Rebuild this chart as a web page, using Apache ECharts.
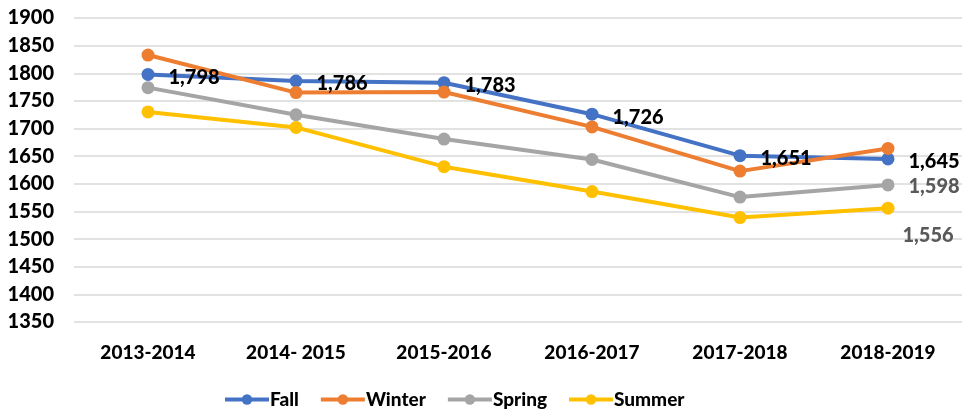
<!DOCTYPE html>
<html>
<head>
<meta charset="UTF-8">
<title>Seasons</title>
<script src="https://cdn.jsdelivr.net/npm/echarts@6/dist/echarts.min.js"></script>
<style>
  html, body { margin: 0; padding: 0; background: #fff; }
  #main { width: 965px; height: 415px; }
</style>
</head>
<body>
<div id="main"></div>
<script>
var years = ['2013-2014', '2014- 2015', '2015-2016', '2016-2017', '2017-2018', '2018-2019'];
var fall = [1798, 1786, 1783, 1726, 1651, 1645];
var winter = [1833, 1765, 1766, 1703, 1623, 1664];
var spring = [1774, 1725, 1681, 1644, 1576, 1598];
var summer = [1730, 1702, 1631, 1586, 1539, 1556];

var FONT = 'Lato';
var W = 900;
var fmt = function (p) { return Number(p.value).toLocaleString('en-US'); };

// only the last point gets a label for these series
function lastLabel(arr, labelOpt) {
  return arr.map(function (v, i) {
    if (i === arr.length - 1) return { value: v, label: labelOpt };
    return v;
  });
}

function line(name, color, data) {
  return {
    name: name,
    type: 'line',
    data: data,
    symbol: 'circle',
    symbolSize: 13,
    lineStyle: { width: 4, color: color },
    itemStyle: { color: color },
    emphasis: { disabled: true }
  };
}

var chart = echarts.init(document.getElementById('main'));

var sFall = line('Fall', '#4472C4', fall);
sFall.label = {
  show: true, position: 'right', distance: 14, offset: [0, 3],
  color: '#000', fontFamily: FONT, fontWeight: W, fontSize: 20,
  formatter: fmt
};
var sWinter = line('Winter', '#ED7D31', winter);
var sSpring = line('Spring', '#A5A5A5', lastLabel(spring, {
  show: true, position: 'right', distance: 14, offset: [0, 2],
  color: '#595959', fontFamily: FONT, fontWeight: W, fontSize: 20,
  formatter: fmt
}));
var sSummer = line('Summer', '#FFC000', lastLabel(summer, {
  show: true, position: 'right', distance: 8, offset: [0, 27],
  color: '#595959', fontFamily: FONT, fontWeight: W, fontSize: 20,
  formatter: fmt
}));

chart.setOption({
  animation: false,
  grid: { left: 74, right: 3, top: 18, bottom: 93, containLabel: false },
  legend: {
    left: 218, bottom: 1,
    itemWidth: 44, itemHeight: 13, itemGap: 20,
    lineStyle: { width: 4 },
    textStyle: { fontFamily: FONT, fontWeight: W, fontSize: 19, color: '#000', padding: [0, 0, 0, -4] },
    data: ['Fall', 'Winter', 'Spring', 'Summer']
  },
  xAxis: {
    type: 'category',
    data: years,
    axisLine: { show: false },
    axisTick: { show: false },
    axisLabel: { margin: 21, fontFamily: FONT, fontWeight: W, fontSize: 19, color: '#000' }
  },
  yAxis: {
    type: 'value',
    min: 1350, max: 1900, interval: 50,
    axisLabel: { margin: 20, fontFamily: FONT, fontWeight: W, fontSize: 20, color: '#000',
      formatter: function (v) { return String(v); } },
    splitLine: { lineStyle: { color: '#D9D9D9', width: 1.5 } }
  },
  series: [sFall, sWinter, sSpring, sSummer]
});
</script>
</body>
</html>
